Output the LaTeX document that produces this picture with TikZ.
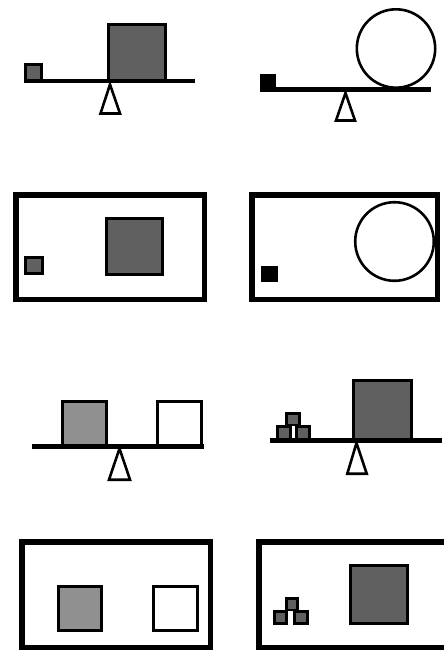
\documentclass[tikz,border=0pt]{standalone}
\definecolor{darkfill}{HTML}{606060}
\definecolor{lightfill}{HTML}{909090}
\begin{document}
\begin{tikzpicture}[x=1pt,y=-1pt,
  beam/.style={line width=4.5pt},
  fulcrum/.style={draw=black,fill=white,line width=2.6pt,line join=miter},
  frame/.style={draw=black,line width=5.5pt},
  darkbox/.style={draw=black,fill=darkfill,line width=3pt},
  lightbox/.style={draw=black,fill=lightfill,line width=3.2pt},
  whitebox/.style={draw=black,fill=white,line width=3.2pt},
  blackbox/.style={draw=black,fill=black,line width=1pt},
  smallbox/.style={draw=black,fill=darkfill,line width=2.6pt},
  ball/.style={draw=black,fill=white,line width=2.6pt}]
\useasboundingbox (0,0) rectangle (444,651);
\clip (0,0) rectangle (444,651);
\fill[white] (0,0) rectangle (444,651);

% ---- Row 1 left: seesaw with two squares
\draw[darkbox] (25.5,64.5) rectangle (41.5,80.5);
\draw[darkbox] (108.5,24.5) rectangle (165.5,80.5);
\draw[beam] (24,81) -- (195,81);
\draw[fulcrum] (110,84.5) -- (120,113.5) -- (100.5,113.5) -- cycle;

% ---- Row 1 right: seesaw with black square and circle
\draw[blackbox] (260.5,74.5) rectangle (275.5,88);
\draw[ball] (396,48.5) circle (39.2);
\draw[beam] (260,89.5) -- (431,89.5);
\draw[fulcrum] (345.5,93) -- (355,120.5) -- (336,120.5) -- cycle;

% ---- Row 2 left: frame with two squares
\draw[frame] (15.75,194.75) rectangle (204.25,299.25);
\draw[darkbox] (25.5,257.5) rectangle (42.5,273.5);
\draw[darkbox] (106.5,218.5) rectangle (162.5,274.5);

% ---- Row 2 right: frame with black square and circle
\draw[frame] (251.75,194.75) rectangle (437.25,299.25);
\draw[blackbox] (261.5,266.5) rectangle (277.5,281.5);
\draw[ball] (394.5,241.5) circle (39.3);

% ---- Row 3 left: seesaw with gray and white squares
\draw[lightbox] (62.6,401.6) rectangle (106.4,446);
\draw[whitebox] (157.6,401.6) rectangle (201.4,446);
\draw[beam] (32,446.5) -- (204,446.5);
\draw[fulcrum] (119.5,448.5) -- (130,479.7) -- (109,479.7) -- cycle;

% ---- Row 3 right: seesaw with stack and big square
\draw[smallbox] (286.3,413.3) rectangle (299.7,425);
\draw[smallbox] (277.3,426.3) rectangle (290.7,439);
\draw[smallbox] (296.3,426.3) rectangle (309.7,439);
\draw[darkbox] (353.5,380.5) rectangle (411.5,440);
\draw[beam] (270,440.5) -- (442,440.5);
\draw[fulcrum] (356.5,443) -- (366.7,473.7) -- (347.3,473.7) -- cycle;

% ---- Row 4 left: frame with gray and white squares
\draw[frame] (21.75,541.75) rectangle (210.25,647.5);
\draw[lightbox] (58.6,586.6) rectangle (101.4,630.4);
\draw[whitebox] (153.6,586.6) rectangle (197.4,630.4);

% ---- Row 4 right: frame with stack and big square
\draw[frame] (258.75,541.75) rectangle (470,647.5);
\draw[darkbox] (350.5,565.5) rectangle (407.5,623.5);
\draw[smallbox] (286.3,598.3) rectangle (297.7,610);
\draw[smallbox] (274.3,611.3) rectangle (286.7,623.7);
\draw[smallbox] (294.3,611.3) rectangle (307.7,623.7);
\end{tikzpicture}
\end{document}
